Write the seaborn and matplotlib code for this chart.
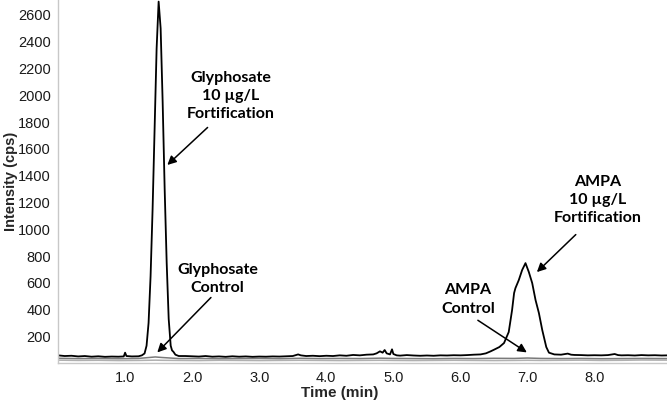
import numpy as np
import pandas as pd
import seaborn as sns
import matplotlib.pyplot as plt
from matplotlib.ticker import MultipleLocator, FixedLocator

# fortified sample trace (black), time in min, intensity in cps
fort_time = [0.0, 0.1, 0.2, 0.3, 0.4, 0.5, 0.6, 0.7, 0.8, 0.9, 0.98, 1.0, 1.02, 1.1, 1.2,
             1.25, 1.29, 1.32, 1.35, 1.38, 1.41, 1.44, 1.47, 1.50, 1.53, 1.56, 1.59, 1.62,
             1.65, 1.68, 1.70, 1.72, 1.75, 1.80,
             1.9, 2.0, 2.1, 2.2, 2.3, 2.4, 2.5, 2.6, 2.7, 2.8, 2.9, 3.0, 3.1, 3.2, 3.3, 3.4,
             3.5, 3.58, 3.62, 3.7, 3.8, 3.9, 4.0, 4.1, 4.2, 4.3, 4.4, 4.5, 4.6, 4.7, 4.75,
             4.8, 4.84, 4.87, 4.9, 4.95, 4.98, 5.0, 5.05, 5.1, 5.2, 5.3, 5.4, 5.5, 5.6, 5.7,
             5.8, 5.9, 6.0, 6.1, 6.2, 6.3, 6.38,
             6.45, 6.5, 6.58, 6.65, 6.72, 6.77, 6.80, 6.82, 6.87, 6.92, 6.97, 7.02, 7.07,
             7.12, 7.17, 7.22, 7.28, 7.32,
             7.4, 7.5, 7.6, 7.65, 7.7, 7.8, 7.9, 8.0, 8.1, 8.2, 8.3, 8.35, 8.4, 8.5, 8.6,
             8.7, 8.8, 8.9, 9.0, 9.1]
fort_cps = [58, 53, 55, 50, 53, 48, 51, 47, 49, 48, 50, 78, 53, 50, 51,
            58, 72, 130, 300, 650, 1150, 1750, 2350, 2700, 2500, 1950, 1300, 750,
            330, 130, 95, 85, 63, 53,
            53, 51, 49, 53, 48, 50, 47, 51, 48, 50, 47, 49, 48, 50, 49, 51,
            53, 65, 58, 53, 55, 52, 55, 53, 58, 55, 61, 58, 63, 65, 73,
            88, 78, 98, 73, 65, 103, 68, 58, 56, 60, 57, 55, 57, 55, 58,
            57, 59, 58, 60, 63, 65, 73,
            88, 100, 120, 150, 232, 396, 523, 560, 620, 695, 747, 680, 598,
            471, 374, 247, 120, 78,
            65, 63, 71, 63, 61, 60, 58, 59, 58, 60, 68, 60, 58, 59, 57,
            60, 58, 59, 57, 58]

# control traces (gray)
ctrl_time = [0.0, 0.3, 0.6, 0.9, 1.2, 1.45, 1.55, 1.8, 2.1, 2.4, 2.7, 3.0, 3.3, 3.6,
             3.9, 4.2, 4.5, 4.8, 5.0, 5.3, 5.6, 5.9, 6.2, 6.5, 6.8, 7.0, 7.2, 7.5,
             7.8, 8.1, 8.4, 8.7, 9.1]
ctrl1_cps = [36, 34, 35, 33, 35, 46, 42, 34, 35, 33, 34, 35, 33, 36, 34, 35, 34, 37, 35,
             34, 33, 35, 34, 36, 35, 38, 35, 34, 35, 33, 34, 35, 34]
ctrl2_cps = [22, 20, 21, 19, 20, 22, 21, 20, 19, 21, 20, 19, 20, 21, 20, 19, 20, 21, 20,
             19, 20, 21, 20, 19, 20, 21, 20, 21, 22, 20, 21, 23, 22]

x_ticks = [1.0, 2.0, 3.0, 4.0, 5.0, 6.0, 7.0, 8.0]
y_ticks = [200, 400, 600, 800, 1000, 1200, 1400, 1600, 1800, 2000, 2200, 2400, 2600]

df_fort = pd.DataFrame({'time': fort_time, 'cps': fort_cps})
df_c1 = pd.DataFrame({'time': ctrl_time, 'cps': ctrl1_cps})
df_c2 = pd.DataFrame({'time': ctrl_time, 'cps': ctrl2_cps})

sns.set_style('white')
plt.rcParams['font.family'] = ['Liberation Sans', 'DejaVu Sans']

fig = plt.figure(figsize=(6.67, 4.08), dpi=100)
ax = fig.add_axes([0.087, 0.11, 0.913, 0.89])

sns.lineplot(data=df_c2, x='time', y='cps', color='#b0b0b0', lw=1.1, sort=False, estimator=None, ax=ax)
sns.lineplot(data=df_c1, x='time', y='cps', color='#7a7a7a', lw=1.1, sort=False, estimator=None, ax=ax)
sns.lineplot(data=df_fort, x='time', y='cps', color='black', lw=1.3, sort=False, estimator=None, ax=ax)

ax.set_xlim(0, 9.08)
ax.set_ylim(0, 2712)
ax.xaxis.set_major_locator(FixedLocator(x_ticks))
ax.set_xticklabels(['%.1f' % t for t in x_ticks])
ax.xaxis.set_minor_locator(MultipleLocator(0.2))
ax.yaxis.set_major_locator(FixedLocator(y_ticks))
ax.yaxis.set_minor_locator(MultipleLocator(50))

for s in ['top', 'right']:
    ax.spines[s].set_visible(False)
for s in ['left', 'bottom']:
    ax.spines[s].set_color('#c8c8c8')
    ax.spines[s].set_linewidth(1.0)
ax.tick_params(axis='both', which='major', length=3, width=0.8, color='#b0b0b0',
               labelsize=10.5, labelcolor='#1a1a1a', direction='out')
ax.tick_params(axis='both', which='minor', length=2, width=0.6, color='#c0c0c0', direction='out')
ax.tick_params(axis='y', pad=2)
ax.tick_params(axis='x', pad=3)

ax.set_xlabel('Time (min)', fontsize=11, fontweight='bold')
ax.set_ylabel('Intensity (cps)', fontsize=10.5, fontweight='bold')
ax.xaxis.set_label_coords(0.463, -0.062)
ax.yaxis.set_label_coords(-0.066, 0.5)

note = dict(fontsize=11.5, fontweight='bold', family=['Lato', 'DejaVu Sans'],
            ha='center', va='center', linespacing=1.4, color='black')
arrow = dict(arrowstyle='-|>', color='black', lw=1.1, mutation_scale=13,
             shrinkA=0, shrinkB=0)

# glyphosate fortification
ax.annotate('', xy=(1.63, 1480), xytext=(2.23, 1760), arrowprops=arrow)
ax.text(2.57, 1995, 'Glyphosate\n10 \u00b5g/L\nFortification', **note)
# glyphosate control
ax.annotate('', xy=(1.48, 80), xytext=(2.28, 490), arrowprops=arrow)
ax.text(2.38, 630, 'Glyphosate\nControl', **note)
# AMPA fortification
ax.annotate('', xy=(7.14, 680), xytext=(7.72, 960), arrowprops=arrow)
ax.text(8.05, 1218, 'AMPA\n10 \u00b5g/L\nFortification', **note)
# AMPA control
ax.annotate('', xy=(6.99, 80), xytext=(6.26, 320), arrowprops=arrow)
ax.text(6.11, 475, 'AMPA\nControl', **note)

fig.savefig('out.png', dpi=100)
